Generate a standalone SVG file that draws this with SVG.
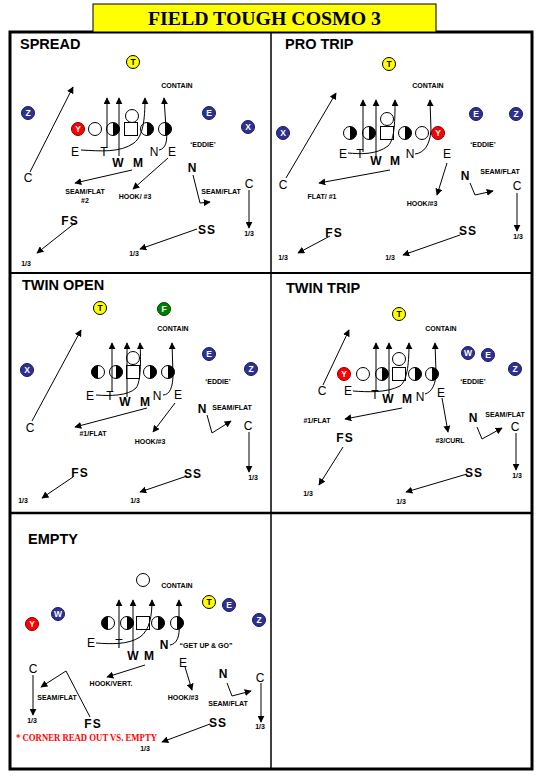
<svg xmlns="http://www.w3.org/2000/svg" width="544" height="782" viewBox="0 0 544 782">
<style>
.ttl{font-family:"Liberation Serif",serif;font-weight:bold;font-size:18px;fill:#000}
.ph{font-family:"Liberation Sans",Arial,sans-serif;font-weight:bold;font-size:14.5px;fill:#000}
.pl{font-family:"Liberation Sans",Arial,sans-serif;font-size:12px;fill:#000;text-anchor:middle}
.pb{font-family:"Liberation Sans",Arial,sans-serif;font-size:12px;font-weight:bold;fill:#000;text-anchor:middle}
.sf{font-family:"Liberation Sans",Arial,sans-serif;font-size:12px;font-weight:bold;fill:#000;text-anchor:middle;letter-spacing:1px}
.sm{font-family:"Liberation Sans",Arial,sans-serif;font-size:7px;font-weight:bold;fill:#000;text-anchor:middle}
.cl{font-family:"Liberation Sans",Arial,sans-serif;font-size:8.5px;font-weight:bold;fill:#fff;text-anchor:middle}
.red{font-family:"Liberation Serif",serif;font-size:10px;font-weight:bold;fill:#ff0000}
.ar{fill:none;stroke:#000;stroke-width:1;marker-end:url(#ah)}
.nv{fill:#2e3192;stroke:#1a1a5e;stroke-width:1}
.rd{fill:#ff0000;stroke:#800000;stroke-width:1}
.yl{fill:#ffff00;stroke:#000;stroke-width:1}
.gr{fill:#008000;stroke:#004000;stroke-width:1}
.op{fill:#fff;stroke:#000;stroke-width:1}
.grid{fill:none;stroke:#000}
</style>
<defs>
<marker id="ah" viewBox="0 0 10 10" refX="9" refY="5" markerWidth="7" markerHeight="7" markerUnits="userSpaceOnUse" orient="auto">
<path d="M0,0 L10,5 L0,10 z" fill="#000"/>
</marker>
<g id="hr"><circle r="6.5" fill="#fff" stroke="#000"/><path d="M0,-6.5 A6.5,6.5 0 0 1 0,6.5 z" fill="#000"/></g>
<g id="hl"><circle r="6.5" fill="#fff" stroke="#000"/><path d="M0,-6.5 A6.5,6.5 0 0 0 0,6.5 z" fill="#000"/></g>
<g id="oc"><circle r="6.5" class="op"/></g>
<g id="sq"><rect x="-6.5" y="-6.5" width="13" height="13" class="op"/></g>
</defs>
<rect width="544" height="782" fill="#fff"/>

<g id="frame">
<rect x="10" y="32" width="522" height="737" class="grid" stroke-width="3"/>
<line x1="271" y1="32" x2="271" y2="768" class="grid" stroke-width="1.5"/>
<line x1="10" y1="273" x2="532" y2="273" class="grid" stroke-width="2"/>
<line x1="10" y1="513" x2="532" y2="513" class="grid" stroke-width="2.5"/>
</g>

<g id="title">
<rect x="93" y="4" width="343" height="28" fill="#ffff00" stroke="#000" stroke-width="1"/>
<text x="264.5" y="25" class="ttl" text-anchor="middle" textLength="233" lengthAdjust="spacingAndGlyphs">FIELD TOUGH COSMO 3</text>
</g>

<!-- SPREAD -->
<g id="spread">
<text x="20" y="49" class="ph">SPREAD</text>
<g id="sp-T"><circle cx="133" cy="62" r="6.5" class="yl"/><text x="133" y="65" class="cl" style="fill:#000">T</text></g>
<g id="sp-Z"><circle cx="28" cy="113" r="6.5" class="nv"/><text x="28" y="116" class="cl">Z</text></g>
<g id="sp-E"><circle cx="209" cy="113" r="6.5" class="nv"/><text x="209" y="116" class="cl">E</text></g>
<g id="sp-X"><circle cx="248" cy="127" r="6.5" class="nv"/><text x="248" y="130" class="cl">X</text></g>
<g id="sp-line">
<circle cx="78" cy="129" r="6.5" class="rd"/><text x="78" y="132" class="cl">Y</text>
<use href="#oc" x="95" y="129"/>
<use href="#hr" x="113" y="129"/>
<use href="#sq" x="131" y="129"/>
<use href="#oc" x="132" y="116"/>
<use href="#hr" x="147" y="129"/>
<use href="#hr" x="165" y="129"/>
</g>
<text x="177" y="88" class="sm">CONTAIN</text>
<text x="203" y="147" class="sm">‘EDDIE’</text>
<text x="75" y="156" class="pl">E</text>
<text x="104" y="156" class="pl">T</text>
<text x="118" y="167" class="pb">W</text>
<text x="138" y="167" class="pb">M</text>
<text x="154" y="156" class="pl">N</text>
<text x="172" y="156" class="pl">E</text>
<text x="28" y="182" class="pl">C</text>
<text x="192" y="172" class="pb">N</text>
<text x="249" y="188" class="pl">C</text>
<text x="70" y="225" class="sf">FS</text>
<text x="207" y="234" class="sf">SS</text>
<text x="85" y="194" class="sm">SEAM/FLAT</text>
<text x="85" y="203" class="sm">#2</text>
<text x="135" y="199" class="sm">HOOK/ #3</text>
<text x="221" y="194" class="sm">SEAM/FLAT</text>
<text x="249" y="236" class="sm">1/3</text>
<text x="26" y="266" class="sm">1/3</text>
<text x="134" y="256" class="sm">1/3</text>
</g>

<!-- PRO TRIP -->
<g id="protrip">
<text x="285" y="49" class="ph">PRO TRIP</text>
<g id="pt-T"><circle cx="389" cy="64" r="6.5" class="yl"/><text x="389" y="67" class="cl" style="fill:#000">T</text></g>
<g id="pt-X"><circle cx="283" cy="133" r="6.5" class="nv"/><text x="283" y="136" class="cl">X</text></g>
<g id="pt-E"><circle cx="476" cy="114" r="6.5" class="nv"/><text x="476" y="117" class="cl">E</text></g>
<g id="pt-Z"><circle cx="516" cy="114" r="6.5" class="nv"/><text x="516" y="117" class="cl">Z</text></g>
<g id="pt-line">
<use href="#hr" x="350" y="133"/>
<use href="#hr" x="369" y="133"/>
<use href="#sq" x="387" y="133"/>
<use href="#oc" x="387" y="119"/>
<use href="#hr" x="405" y="133"/>
<use href="#oc" x="422" y="133"/>
<circle cx="438" cy="133" r="6.5" class="rd"/><text x="438" y="136" class="cl">Y</text>
</g>
<text x="428" y="88" class="sm">CONTAIN</text>
<text x="483" y="147" class="sm">‘EDDIE’</text>
<text x="343" y="158" class="pl">E</text>
<text x="360" y="158" class="pl">T</text>
<text x="376" y="165" class="pb">W</text>
<text x="395" y="165" class="pb">M</text>
<text x="410" y="158" class="pl">N</text>
<text x="447" y="158" class="pl">E</text>
<text x="283" y="189" class="pl">C</text>
<text x="465" y="180" class="pb">N</text>
<text x="517" y="190" class="pl">C</text>
<text x="334" y="237" class="sf">FS</text>
<text x="468" y="235" class="sf">SS</text>
<text x="322" y="199" class="sm">FLAT/ #1</text>
<text x="422" y="206" class="sm">HOOK/#3</text>
<text x="500" y="174" class="sm">SEAM/FLAT</text>
<text x="518" y="239" class="sm">1/3</text>
<text x="283" y="260" class="sm">1/3</text>
<text x="390" y="260" class="sm">1/3</text>
</g>

<!-- TWIN OPEN -->
<g id="twinopen">
<text x="22" y="290" class="ph">TWIN OPEN</text>
<g id="to-T"><circle cx="100" cy="308" r="6.5" class="yl"/><text x="100" y="311" class="cl" style="fill:#000">T</text></g>
<g id="to-F"><circle cx="164" cy="309" r="6.5" class="gr"/><text x="164" y="312" class="cl">F</text></g>
<g id="to-X"><circle cx="27" cy="370" r="6.5" class="nv"/><text x="27" y="373" class="cl">X</text></g>
<g id="to-E"><circle cx="209" cy="354" r="6.5" class="nv"/><text x="209" y="357" class="cl">E</text></g>
<g id="to-Z"><circle cx="251" cy="369" r="6.5" class="nv"/><text x="251" y="372" class="cl">Z</text></g>
<g id="to-line">
<use href="#hl" x="98" y="372"/>
<use href="#hr" x="116" y="372"/>
<use href="#sq" x="133" y="372"/>
<use href="#oc" x="133" y="358"/>
<use href="#hr" x="150" y="372"/>
<use href="#hr" x="168" y="372"/>
</g>
<text x="173" y="331" class="sm">CONTAIN</text>
<text x="218" y="384" class="sm">‘EDDIE’</text>
<text x="90" y="400" class="pl">E</text>
<text x="110" y="400" class="pl">T</text>
<text x="125" y="406" class="pb">W</text>
<text x="145" y="406" class="pb">M</text>
<text x="157" y="400" class="pl">N</text>
<text x="178" y="399" class="pl">E</text>
<text x="30" y="432" class="pl">C</text>
<text x="202" y="413" class="pb">N</text>
<text x="248" y="430" class="pl">C</text>
<text x="80" y="477" class="sf">FS</text>
<text x="193" y="478" class="sf">SS</text>
<text x="93" y="436" class="sm">#1/FLAT</text>
<text x="150" y="444" class="sm">HOOK/#3</text>
<text x="232" y="410" class="sm">SEAM/FLAT</text>
<text x="253" y="480" class="sm">1/3</text>
<text x="23" y="503" class="sm">1/3</text>
<text x="135" y="503" class="sm">1/3</text>
</g>

<!-- TWIN TRIP -->
<g id="twintrip">
<text x="286" y="293" class="ph">TWIN TRIP</text>
<g id="tt-T"><circle cx="399" cy="314" r="6.5" class="yl"/><text x="399" y="317" class="cl" style="fill:#000">T</text></g>
<g id="tt-W"><circle cx="468" cy="353" r="6.5" class="nv"/><text x="468" y="356" class="cl">W</text></g>
<g id="tt-E"><circle cx="488" cy="355" r="6.5" class="nv"/><text x="488" y="358" class="cl">E</text></g>
<g id="tt-Z"><circle cx="515" cy="369" r="6.5" class="nv"/><text x="515" y="372" class="cl">Z</text></g>
<g id="tt-line">
<circle cx="344" cy="374" r="6.5" class="rd"/><text x="344" y="377" class="cl">Y</text>
<use href="#oc" x="363" y="374"/>
<use href="#hr" x="382" y="374"/>
<use href="#sq" x="399" y="374"/>
<use href="#oc" x="399" y="359"/>
<use href="#hr" x="415" y="374"/>
<use href="#hr" x="432" y="374"/>
</g>
<text x="441" y="331" class="sm">CONTAIN</text>
<text x="473" y="384" class="sm">‘EDDIE’</text>
<text x="322" y="395" class="pl">C</text>
<text x="348" y="395" class="pl">E</text>
<text x="375" y="399" class="pl">T</text>
<text x="388" y="403" class="pb">W</text>
<text x="407" y="403" class="pb">M</text>
<text x="420" y="401" class="pl">N</text>
<text x="441" y="397" class="pl">E</text>
<text x="473" y="422" class="pb">N</text>
<text x="515" y="431" class="pl">C</text>
<text x="345" y="442" class="sf">FS</text>
<text x="474" y="477" class="sf">SS</text>
<text x="317" y="423" class="sm">#1/FLAT</text>
<text x="450" y="443" class="sm">#3/CURL</text>
<text x="505" y="417" class="sm">SEAM/FLAT</text>
<text x="517" y="478" class="sm">1/3</text>
<text x="308" y="496" class="sm">1/3</text>
<text x="401" y="504" class="sm">1/3</text>
</g>

<!-- EMPTY -->
<g id="empty">
<text x="28" y="544" class="ph">EMPTY</text>
<g id="em-T"><circle cx="209" cy="602" r="6.5" class="yl"/><text x="209" y="605" class="cl" style="fill:#000">T</text></g>
<g id="em-E"><circle cx="229" cy="605" r="6.5" class="nv"/><text x="229" y="608" class="cl">E</text></g>
<g id="em-Z"><circle cx="259" cy="620" r="6.5" class="nv"/><text x="259" y="623" class="cl">Z</text></g>
<g id="em-W"><circle cx="58" cy="614" r="6.5" class="nv"/><text x="58" y="617" class="cl">W</text></g>
<g id="em-Y"><circle cx="32" cy="624" r="6.5" class="rd"/><text x="32" y="627" class="cl">Y</text></g>
<g id="em-line">
<use href="#oc" x="143" y="580"/>
<use href="#hl" x="108" y="623"/>
<use href="#hr" x="127" y="623"/>
<use href="#sq" x="143" y="623"/>
<use href="#hr" x="158" y="623"/>
<use href="#hr" x="177" y="623"/>
</g>
<text x="177" y="588" class="sm">CONTAIN</text>
<text x="91" y="647" class="pl">E</text>
<text x="119" y="648" class="pl">T</text>
<text x="133" y="660" class="pb">W</text>
<text x="149" y="660" class="pb">M</text>
<text x="164" y="649" class="pb">N</text>
<text x="206" y="648" class="sm">“GET UP &amp; GO”</text>
<text x="33" y="673" class="pl">C</text>
<text x="183" y="667" class="pl">E</text>
<text x="223" y="678" class="pb">N</text>
<text x="260" y="682" class="pl">C</text>
<text x="93" y="728" class="sf">FS</text>
<text x="218" y="727" class="sf">SS</text>
<text x="57" y="700" class="sm">SEAM/FLAT</text>
<text x="111" y="686" class="sm">HOOK/VERT.</text>
<text x="183" y="700" class="sm">HOOK/#3</text>
<text x="228" y="706" class="sm">SEAM/FLAT</text>
<text x="32" y="723" class="sm">1/3</text>
<text x="260" y="729" class="sm">1/3</text>
<text x="145" y="751" class="sm">1/3</text>
<text x="16" y="741" class="red" textLength="141" lengthAdjust="spacingAndGlyphs">* CORNER READ OUT VS. EMPTY</text>
</g>

<g id="connectors">
<!-- spread -->
<line x1="30" y1="172" x2="73" y2="87" class="ar"/>
<line x1="107" y1="148" x2="107" y2="98" class="ar"/>
<line x1="119" y1="156" x2="119" y2="98" class="ar"/>
<path d="M81,150 C100,151 120,153 134,143 C143,136 145,120 145,98" class="ar"/>
<path d="M159,150 C166,149 168,140 166,128 L164,98" class="ar"/>
<line x1="132" y1="170" x2="75" y2="183" class="ar"/>
<line x1="168" y1="158" x2="133" y2="189" class="ar"/>
<polyline points="193,175 200,203 210,202" class="ar"/>
<line x1="249" y1="190" x2="249" y2="228" class="ar"/>
<line x1="75" y1="223" x2="37" y2="253" class="ar"/>
<line x1="197" y1="229" x2="140" y2="249" class="ar"/>
<!-- pro trip -->
<line x1="286" y1="178" x2="336" y2="93" class="ar"/>
<line x1="363" y1="152" x2="363" y2="100" class="ar"/>
<line x1="376" y1="156" x2="376" y2="100" class="ar"/>
<path d="M348,153 C360,154 376,155 388,146 C395,139 395,120 395,100" class="ar"/>
<path d="M415,154 C424,153 430,145 431,130 L430,100" class="ar"/>
<line x1="390" y1="170" x2="319" y2="183" class="ar"/>
<line x1="447" y1="163" x2="437" y2="195" class="ar"/>
<polyline points="470,183 475,195 493,191" class="ar"/>
<line x1="517" y1="193" x2="517" y2="231" class="ar"/>
<line x1="330" y1="236" x2="298" y2="253" class="ar"/>
<line x1="460" y1="235" x2="403" y2="255" class="ar"/>
<!-- twin open -->
<line x1="32" y1="421" x2="81" y2="330" class="ar"/>
<line x1="112" y1="392" x2="112" y2="343" class="ar"/>
<line x1="127" y1="397" x2="127" y2="343" class="ar"/>
<path d="M96,395 C110,396 128,396 136,388 C141,382 141,360 140,343" class="ar"/>
<path d="M163,395 C170,395 173,386 173,375 L172,343" class="ar"/>
<line x1="147" y1="408" x2="75" y2="427" class="ar"/>
<line x1="175" y1="403" x2="153" y2="432" class="ar"/>
<polyline points="207,415 212,433 231,421" class="ar"/>
<line x1="249" y1="432" x2="249" y2="472" class="ar"/>
<line x1="73" y1="477" x2="42" y2="498" class="ar"/>
<line x1="187" y1="476" x2="140" y2="492" class="ar"/>
<!-- twin trip -->
<line x1="323" y1="385" x2="349" y2="330" class="ar"/>
<line x1="376" y1="391" x2="376" y2="343" class="ar"/>
<line x1="389" y1="394" x2="389" y2="343" class="ar"/>
<path d="M353,391 C368,392 386,393 400,386 C408,380 409,360 409,343" class="ar"/>
<path d="M425,394 C432,392 436,384 436,372 L435,343" class="ar"/>
<line x1="402" y1="408" x2="345" y2="419" class="ar"/>
<line x1="442" y1="398" x2="448" y2="432" class="ar"/>
<polyline points="477,427 482,439 502,428" class="ar"/>
<line x1="516" y1="433" x2="516" y2="470" class="ar"/>
<line x1="343" y1="447" x2="319" y2="485" class="ar"/>
<line x1="467" y1="474" x2="406" y2="492" class="ar"/>
<!-- empty -->
<line x1="119" y1="640" x2="119" y2="600" class="ar"/>
<line x1="133" y1="652" x2="133" y2="600" class="ar"/>
<path d="M96,643 C110,644 128,645 140,637 C150,630 152,615 152,600" class="ar"/>
<path d="M170,645 C177,644 180,636 179,625 L179,600" class="ar"/>
<line x1="145" y1="665" x2="107" y2="677" class="ar"/>
<line x1="185" y1="667" x2="192" y2="690" class="ar"/>
<polyline points="227,683 232,696 251,691" class="ar"/>
<line x1="33" y1="675" x2="33" y2="715" class="ar"/>
<line x1="261" y1="683" x2="261" y2="722" class="ar"/>
<polyline points="90,717 66,671 41,687" class="ar"/>
<line x1="210" y1="724" x2="162" y2="742" class="ar"/>
</g>
</svg>
